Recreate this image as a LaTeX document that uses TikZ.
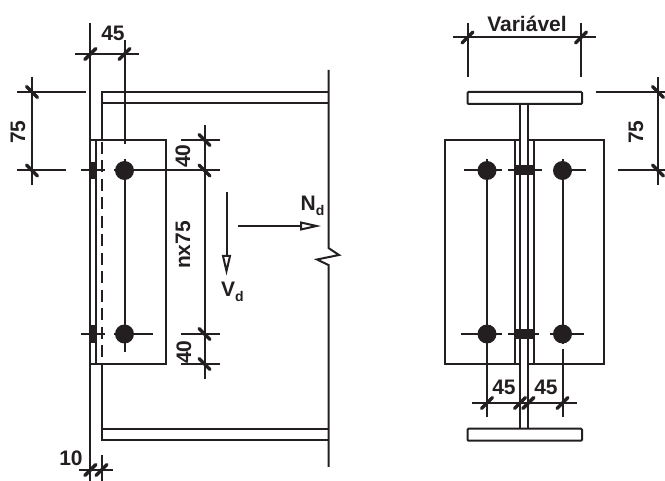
\documentclass[tikz,border=0pt]{standalone}
\usepackage{fontspec}
\setmainfont{Liberation Sans}
\definecolor{ink}{HTML}{231F20}
\tikzset{
  ln/.style={draw=ink,line width=2pt},
  tk/.style={draw=ink,line width=3.5pt,line cap=round},
  dim/.style={text=ink,font=\fontsize{21}{21}\selectfont\bfseries,inner sep=0pt},
  bolt/.style={circle,fill=ink,inner sep=0pt,minimum size=19pt},
  head/.style={draw=ink,line width=2pt,fill=white,line join=miter},
}
\newcommand{\tkv}[2]{\draw[tk] (#1-5.5,#2-5.5) -- (#1+5.5,#2+5.5);}
\newcommand{\tkh}[2]{\draw[tk] (#1-5.5,#2+5.5) -- (#1+5.5,#2-5.5);}
\begin{document}
\begin{tikzpicture}[x=1pt,y=-1pt]
\useasboundingbox (0,0) rectangle (665,481);
%% LEFT VIEW
\draw[ln] (90.3,23) -- (90.3,481);
\draw[ln] (96,140) -- (96,364);
\draw[ln,dash pattern=on 12pt off 6.5pt] (101.5,142) -- (101.5,364);
\draw[ln] (101.5,140) -- (101.5,92) -- (329,92);
\draw[ln] (101.5,103.5) -- (329,103.5);
\draw[ln] (101.5,364) -- (101.5,440) -- (329,440);
\draw[ln] (101.5,428.7) -- (329,428.7);
\draw[ln] (90.3,140) -- (165.5,140) -- (165.5,364) -- (90.3,364);
\draw[ln] (328.5,70) -- (328.5,248) -- (339,255) -- (317,259.5) -- (328.5,265) -- (328.5,467);
% bolt axes
\draw[ln] (124.5,40) -- (124.5,144);
\draw[ln] (124.5,159) -- (124.5,352);
\draw[ln] (81,170.5) -- (105,170.5);
\draw[ln] (114,170.5) -- (220,170.5);
\draw[ln] (81,334) -- (105,334);
\draw[ln] (114,334) -- (153,334);
\node[bolt] (bl1) at (124.5,170.5) {};
\node[bolt] (bl2) at (124.5,334) {};
\fill[ink] (90,162) rectangle (97,179);
\fill[ink] (90,325) rectangle (97,343);
% dims left
\draw[ln] (75,54) -- (139,54);
\tkh{90.3}{54} \tkh{124.5}{54}
\node[dim] (t45a) at (113,33) {45};
\draw[ln] (17,92) -- (86,92);
\draw[ln] (17,170.5) -- (66,170.5);
\draw[ln] (32,77) -- (32,185);
\tkv{32}{92} \tkv{32}{170.5}
\node[dim,rotate=90] (t75a) at (18,132) {75};
\draw[ln] (204.5,125) -- (204.5,379);
\draw[ln] (181,140) -- (220,140);
\draw[ln] (181,334) -- (220,334);
\draw[ln] (181,364) -- (220,364);
\tkv{204.5}{140} \tkv{204.5}{170.5} \tkv{204.5}{334} \tkv{204.5}{364}
\node[dim,rotate=90] (t40a) at (183,156) {40};
\node[dim,rotate=90] (tnx) at (183,245) {nx75};
\node[dim,rotate=90] (t40b) at (184,352) {40};
\draw[ln] (79,470) -- (113,470);
\draw[ln] (101.5,455) -- (101.5,481);
\tkh{90.3}{470} \tkh{101.5}{470}
\node[dim] (t10) at (71,458) {10};
% forces
\draw[ln] (226.5,192) -- (226.5,256);
\draw[head] (223,256) -- (230,256) -- (226.5,271) -- cycle;
\draw[ln] (238,226) -- (301,226);
\draw[head] (301,222.5) -- (301,229.5) -- (316.5,226) -- cycle;
\node[dim,anchor=base west] (tn) at (300.5,211) {N\raisebox{-5pt}{\fontsize{14}{14}\selectfont d}};
\node[dim,anchor=base west] (tv) at (221,297) {V\raisebox{-5pt}{\fontsize{14}{14}\selectfont d}};
%% RIGHT VIEW
\draw[ln,rounded corners=1pt] (467.5,92) rectangle (582,104);
\draw[ln,rounded corners=1pt] (467.5,428.7) rectangle (582,440.7);
\draw[ln] (520,104) -- (520,428.7);
\draw[ln] (528.3,104) -- (528.3,428.7);
\draw[ln] (514.7,140) -- (514.7,364);
\draw[ln] (534,140) -- (534,364);
\draw[ln] (520,140) -- (445,140) -- (445,364) -- (520,364);
\draw[ln] (528.3,140) -- (603.7,140) -- (603.7,364) -- (528.3,364);
\fill[ink] (513.5,165.5) rectangle (535,175.5);
\fill[ink] (513.5,329) rectangle (535,339);
\draw[ln] (487,159) -- (487,417);
\draw[ln] (562.5,159) -- (562.5,344);
\draw[ln] (562.5,349) -- (562.5,417);
\draw[ln] (464,170.5) -- (502,170.5);
\draw[ln] (508,170.5) -- (542,170.5);
\draw[ln] (554,170.5) -- (586,170.5);
\draw[ln] (461,334) -- (502,334);
\draw[ln] (508,334) -- (539,334);
\draw[ln] (550,334) -- (584,334);
\node[bolt] (br1) at (487,170.5) {};
\node[bolt] (br2) at (562.5,170.5) {};
\node[bolt] (br3) at (487,334) {};
\node[bolt] (br4) at (562.5,334) {};
% dims right
\draw[ln] (453,37.5) -- (596,37.5);
\draw[ln] (467.5,23) -- (467.5,77);
\draw[ln] (581,23) -- (581,77);
\tkh{467.5}{37.5} \tkh{581}{37.5}
\node[dim] (tvar) at (527,23.5) {Variável};
\draw[ln] (596,92) -- (665,92);
\draw[ln] (618,170.5) -- (665,170.5);
\draw[ln] (658,77) -- (658,185);
\tkv{658}{92} \tkv{658}{170.5}
\node[dim,rotate=90] (t75b) at (636,132) {75};
\draw[ln] (472,403) -- (577,403);
\tkh{487}{403} \tkh{520}{403} \tkh{528.3}{403} \tkh{562.5}{403}
\node[dim] (t45b) at (504,387) {45};
\node[dim] (t45c) at (546,387) {45};
\end{tikzpicture}
\end{document}
